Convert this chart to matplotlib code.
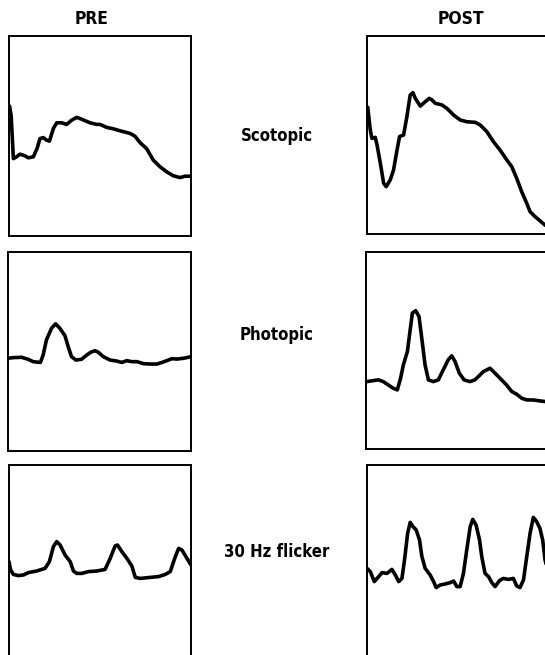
import matplotlib
matplotlib.use("Agg")
import matplotlib.pyplot as plt
from matplotlib import font_manager

# ---------------- data (normalised time 0-100, amplitude 0-100) ----------------
scot_pre_t = [0.3, 1.2, 2.4, 4.0, 6.0, 8.5, 10.6, 13.4, 15.5, 17.0, 18.9, 20.5, 22.2, 24.4,
              26.2, 28.9, 31.7, 34.4, 37.2, 39.9, 44.5, 48.2, 50.0, 53.7, 57.3, 61.0,
              66.5, 69.2, 72.0, 75.6, 79.3, 83.0, 86.6, 90.3, 94.0, 96.7, 100.0]
scot_pre_v = [65.0, 60.0, 38.7, 39.5, 40.9, 40.2, 39.1, 39.6, 44.0, 48.7, 49.2, 48.0, 47.4, 53.8,
              56.6, 56.6, 55.8, 57.9, 59.3, 58.4, 56.6, 55.8, 55.8, 54.3, 53.6, 52.6,
              51.3, 49.9, 46.7, 43.7, 37.9, 34.6, 32.1, 30.1, 29.2, 29.9, 29.9]

scot_post_t = [0.4, 1.8, 2.7, 4.5, 5.5, 7.3, 9.1, 10.5, 12.7, 14.5, 16.4, 17.8, 20.0, 21.8,
               23.6, 25.1, 26.4, 29.1, 31.8, 34.0, 35.5, 37.3, 40.9, 43.6, 47.3, 50.9,
               54.5, 59.1, 61.8, 65.5, 69.1, 72.7, 76.4, 79.1, 81.8, 84.5, 87.3, 89.1,
               91.8, 94.5, 97.3, 100.0]
scot_post_v = [64.0, 52.5, 48.3, 48.8, 44.9, 35.7, 25.6, 23.9, 27.3, 32.3, 42.4, 49.2, 50.0, 59.3,
               70.2, 71.4, 68.5, 64.6, 66.8, 68.5, 67.7, 66.0, 65.2, 63.5, 60.1, 57.6,
               56.7, 56.4, 55.1, 51.7, 46.6, 42.4, 37.4, 34.0, 28.1, 21.4, 15.5, 11.3,
               8.8, 6.7, 4.5, 2.9]

phot_pre_t = [0.0, 2.7, 7.3, 11.0, 13.7, 17.7, 19.2, 21.0, 23.8, 26.0, 28.3, 31.1, 32.9, 34.7,
              37.1, 40.2, 43.0, 45.2, 47.5, 49.4, 52.1, 55.8, 59.4, 62.2, 64.9, 67.6,
              70.4, 74.0, 77.7, 81.4, 84.1, 86.8, 89.6, 92.3, 96.0, 100.0]
phot_pre_v = [46.6, 46.9, 47.1, 46.1, 44.9, 44.5, 48.2, 55.8, 61.7, 63.9, 61.7, 58.0, 52.4, 47.4,
              45.7, 46.1, 48.2, 49.6, 50.4, 49.6, 47.4, 45.7, 45.2, 44.5, 45.4, 44.9,
              44.9, 43.9, 43.7, 43.7, 44.5, 45.4, 46.4, 46.2, 46.6, 47.4]

phot_post_t = [0.4, 3.1, 6.7, 9.4, 12.1, 14.9, 17.0, 18.8, 20.3, 22.5, 23.9, 25.2, 27.0, 28.8,
               30.3, 32.1, 33.9, 36.6, 39.3, 42.0, 44.7, 46.6, 48.4, 50.7, 53.3, 56.5,
               59.2, 61.1, 63.8, 67.4, 70.1, 73.7, 76.4, 79.2, 81.9, 84.6, 87.3, 90.9,
               94.6, 97.3, 100.0]
phot_post_v = [34.2, 34.6, 35.1, 34.2, 32.5, 30.8, 30.0, 35.9, 42.7, 49.5, 59.7, 69.0, 70.2, 67.3,
               56.3, 42.7, 35.1, 34.2, 35.1, 40.2, 45.3, 47.3, 44.4, 38.5, 35.1, 34.2,
               35.1, 36.8, 39.3, 41.0, 38.5, 35.1, 32.5, 29.2, 27.8, 25.8, 24.9, 24.9,
               24.4, 24.1, 24.1]

flick_pre_t = [0.0, 0.9, 2.4, 5.1, 7.9, 10.6, 15.2, 19.8, 22.2, 24.4, 26.2, 28.1, 30.8, 33.6,
               35.4, 37.2, 40.0, 43.7, 48.3, 52.8, 55.6, 58.3, 59.6, 62.0, 64.8, 67.5,
               69.4, 72.1, 77.6, 82.2, 85.9, 88.6, 91.4, 93.2, 95.0, 97.8, 100.0]
flick_pre_v = [51.7, 47.5, 45.3, 44.7, 45.0, 46.2, 47.0, 48.3, 51.7, 59.2, 61.7, 60.0, 55.0, 51.7,
               47.0, 45.8, 45.8, 46.7, 47.0, 47.8, 53.3, 59.5, 60.0, 56.7, 53.3, 49.5,
               43.8, 43.3, 43.8, 44.2, 45.3, 46.7, 54.2, 58.3, 57.5, 53.3, 50.0]

flick_post_t = [0.0, 1.8, 4.0, 6.4, 8.2, 10.9, 13.6, 15.5, 17.3, 19.1, 20.5, 22.2, 23.6, 25.1,
                26.9, 28.7, 30.0, 31.8, 34.5, 36.4, 37.8, 40.0, 42.7, 45.5, 47.3, 49.1,
                50.9, 52.7, 54.5, 56.4, 57.8, 59.6, 61.5, 62.7, 64.5, 66.4, 68.2, 70.0,
                72.4, 74.5, 77.3, 80.0, 81.8, 83.6, 85.5, 87.3, 89.1, 90.9, 92.7, 94.5,
                96.0, 97.3, 99.1, 100.0]
flick_post_v = [48.3, 46.7, 41.7, 44.2, 46.2, 45.8, 47.8, 45.0, 41.7, 43.3, 52.5, 65.8, 71.3, 69.2,
                67.5, 62.5, 54.2, 48.3, 45.0, 41.7, 38.7, 40.0, 40.5, 41.2, 42.0, 39.2,
                39.2, 45.8, 57.5, 69.2, 72.8, 70.0, 62.5, 54.2, 45.8, 44.2, 41.2, 39.2,
                42.2, 43.3, 42.8, 43.3, 39.5, 38.7, 42.5, 54.2, 65.8, 73.8, 71.7, 68.3,
                62.5, 52.5, 45.8, 42.5]

row_labels = ["Scotopic", "Photopic", "30 Hz flicker"]
col_labels = ["PRE", "POST"]

# ---------------- fonts ----------------
names = {f.name for f in font_manager.fontManager.ttflist}
if "Liberation Sans Narrow" in names:
    FONT = dict(family="Liberation Sans Narrow", fontweight="bold")
else:
    FONT = dict(family="DejaVu Sans", fontweight="bold", fontstretch="condensed")

W, H = 545, 655
fig = plt.figure(figsize=(W / 100, H / 100), dpi=100)


def axes_px(x0, x1, y0, y1):
    return fig.add_axes([x0 / W, 1 - y1 / H, (x1 - x0) / W, (y1 - y0) / H])


boxes = [
    [(9, 191, 36, 236), (367, 550, 36, 234)],
    [(8, 191, 252, 451), (366, 550, 252, 449)],
    [(9, 191, 465, 665), (367, 550, 465, 665)],
]
series = [
    [(scot_pre_t, scot_pre_v), (scot_post_t, scot_post_v)],
    [(phot_pre_t, phot_pre_v), (phot_post_t, phot_post_v)],
    [(flick_pre_t, flick_pre_v), (flick_post_t, flick_post_v)],
]

for r in range(3):
    for c in range(2):
        ax = axes_px(*boxes[r][c])
        t, v = series[r][c]
        ax.plot(t, v, color="black", lw=2.6, solid_joinstyle="round",
                solid_capstyle="round")
        ax.set_xlim(0, 100)
        ax.set_ylim(0, 100)
        ax.set_xticks([])
        ax.set_yticks([])
        for s in ax.spines.values():
            s.set_linewidth(1.4)
            s.set_color("black")

# column headings
fig.text(92 / W, 1 - 19 / H, col_labels[0], ha="center", va="center", fontsize=12.5, **FONT)
fig.text(461 / W, 1 - 19 / H, col_labels[1], ha="center", va="center", fontsize=12.5, **FONT)

# row labels
row_y = [136, 335, 552]
for lab, y in zip(row_labels, row_y):
    fig.text(277 / W, 1 - y / H, lab, ha="center", va="center", fontsize=12, **FONT)

fig.savefig("out.png", dpi=100)
